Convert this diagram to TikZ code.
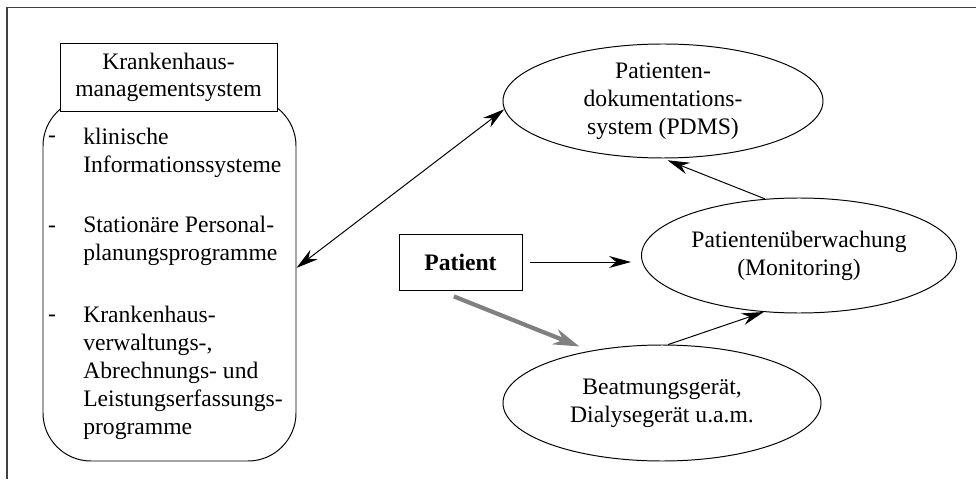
\documentclass[tikz,border=0pt]{standalone}
\usepackage{fontspec}
\setmainfont{Liberation Serif}
\usepackage{xcolor}
\usepackage{tikz}
\usetikzlibrary{arrows.meta}
\usetikzlibrary{shapes.geometric}

\tikzset{
	pfeil/.style={-{Stealth[length=5.5mm,width=3mm]},line width=0.7pt},
	doppelpfeil/.style={{Stealth[length=5.5mm,width=3mm]}-{Stealth[length=5.5mm,width=3mm]},line width=0.7pt},
	oval/.style={draw,ellipse,line width=0.7pt,inner sep=0pt,align=center},
	kasten/.style={draw,rectangle,line width=0.7pt,align=center},
	eintrag/.style={inner sep=0pt,align=left,anchor=west}
}

\begin{document}
\begin{tikzpicture}[scale=1,font=\fontsize{16.8}{20}\selectfont]

	\useasboundingbox (0,0) rectangle (24.4,11.975);

	\draw [line width=1pt,black!75] (0.18,0) -- (0.18,11.79) -- (24.4,11.79);

	\node [kasten,rounded corners=1.2cm,minimum width=6.325cm,minimum height=9.075cm] (kms) at (4.2375,4.9875) {};

	\node [kasten,fill=white,minimum width=5.425cm,minimum height=1.7cm,font=\fontsize{16.8}{19.2}\selectfont] (titel) at (4.2125,10.05) {Krankenhaus-\\managementsystem};

	\node [inner sep=0pt] (strich1) at (1.3,8.5) {-};
	\node [eintrag] (klinik) at (2.075,8.16) {klinische\\Informationssysteme};

	\node [inner sep=0pt] (strich2) at (1.3,6.25) {-};
	\node [eintrag] (personal) at (2.075,5.96) {Stationäre Personal-\\planungsprogramme};

	\node [inner sep=0pt] (strich3) at (1.3,4.03) {-};
	\node [eintrag] (verwaltung) at (2.075,2.65) {Krankenhaus-\\verwaltungs-,\\Abrechnungs- und\\Leistungserfassungs-\\programme};

	\node [oval,minimum width=8cm,minimum height=2.85cm] (pdms) at (16.575,9.45) {Patienten-\\dokumentations-\\system (PDMS)};

	\node [oval,minimum width=7.875cm,minimum height=2.875cm] (mon) at (19.975,5.5875) {Patientenüberwachung\\(Monitoring)};

	\node [oval,minimum width=7.95cm,minimum height=2.9cm] (beat) at (16.55,1.9) {Beatmungsgerät,\\Dialysegerät u.a.m.};

	\node [kasten,minimum width=3.075cm,minimum height=1.4cm] (patient) at (11.5125,5.425) {\textbf{Patient}};

	\draw [doppelpfeil] ([yshift=0.29cm]kms.east) -- (pdms.183);

	\draw [pfeil,shorten <=0.18cm,shorten >=0.25cm] (patient.east) -- (patient.east -| mon.west);

	\draw [-{Stealth[length=6.5mm,width=4mm]},line width=3pt,gray,shorten <=0.4cm,shorten >=0.29cm] (patient.233) -- (beat.144);

	\draw [pfeil] (beat.84) -- (mon.238);

	\draw [pfeil,shorten >=0.12cm] (mon.121) -- (pdms.south);

\end{tikzpicture}
\end{document}
